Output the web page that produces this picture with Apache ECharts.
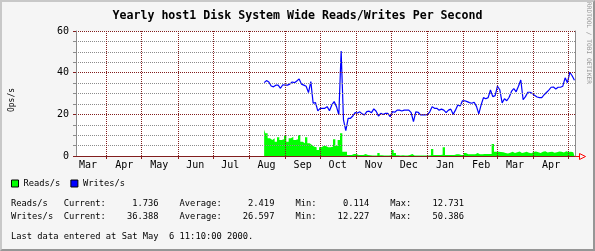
<!DOCTYPE html>
<html><head><meta charset="utf-8">
<script src="https://cdn.jsdelivr.net/npm/echarts@6/dist/echarts.min.js"></script>
<style>
html,body{margin:0;padding:0;background:#f5f5f5;}
#wrap{position:relative;width:595px;height:251px;}
#chart{width:595px;height:251px;}
#frame{position:absolute;left:0;top:0;width:595px;height:251px;box-sizing:border-box;border-style:solid;border-width:2px;border-color:#c8c8c8 #969696 #969696 #c8c8c8;pointer-events:none;}
</style></head><body>
<div id="wrap"><div id="chart"></div><div id="frame"></div></div>
<script>
const chartTitle = 'Yearly host1 Disk System Wide Reads/Writes Per Second';
const yAxisTitle = 'Ops/s';
const seriesNames = ['Reads/s', 'Writes/s'];
const watermark = 'RRDTOOL / TOBI OETIKER';
const lastUpdate = 'Last data entered at Sat May  6 11:10:00 2000.';

// x range (UTC)
const rangeStart = '1999-03-05T17:00:00Z';
const rangeEnd = '2000-05-06T11:10:00Z';
// month grid lines (month starts) and month labels (centred mid-month)
const monthLines = ['1999-04-01','1999-05-01','1999-06-01','1999-07-01','1999-08-01','1999-09-01','1999-10-01','1999-11-01','1999-12-01','2000-01-01','2000-02-01','2000-03-01','2000-04-01','2000-05-01'];
const monthLabelDates = ['1999-03-16','1999-04-16','1999-05-16','1999-06-16','1999-07-16','1999-08-16','1999-09-16','1999-10-16','1999-11-16','1999-12-16','2000-01-16','2000-02-16','2000-03-16','2000-04-16'];
const monthLabels = ['Mar','Apr','May','Jun','Jul','Aug','Sep','Oct','Nov','Dec','Jan','Feb','Mar','Apr'];

// y axis
const yMin = 0, yMax = 60, yStep = 20;

// samples: one every 2 days starting 1999-08-14
const sampleStart = '1999-08-14T00:00:00Z';
const sampleStepDays = 2;
const readsValues = [12.7,10.9,8.5,7.7,8.5,6.9,9,7.7,8,9.6,6.9,8.5,9.3,7.7,8,10.1,6.9,6.1,9,6.1,
 5.3,4.5,4.2,2.9,4.2,4.8,4.8,4.2,4.2,4.5,8,4.8,7.7,10.9,2.1,2.1,0.5,0.5,1,1,
 0.5,0.5,0.5,1,0.5,0.4,0.3,0.3,0.3,1.5,0.4,0.3,0.3,0.3,0.4,2.9,1.5,0.4,0.3,0.4,
 0.3,0.3,0.5,1,0.3,0.3,0.3,0.2,0.3,0.3,0.3,0.4,3.4,0.5,0.5,0.5,0.6,4.2,0.5,0.5,
 0.5,0.5,0.8,0.8,0.5,0.5,1.5,0.8,0.8,0.8,0.8,1.5,0.8,0.8,1,1,1,1,5.8,2.1,
 2.1,1.9,1.8,1.5,1.2,1.6,2.0,1.4,1.8,2.2,1.5,1.7,2.0,1.6,1.3,1.9,2.2,1.8,1.5,2.0,
 2.3,1.7,1.9,2.1,1.6,1.8,2.2,2.0,1.7,2.3,1.9,2.1,1.8,1.736];
const writesValues = [35.2,36.2,35.5,33.6,33.2,34,34,32.5,34.2,34,34,34.5,35.5,35.2,36,37,34.5,34,33.5,30.4,
 35.7,25.4,25.6,21.7,22.9,22.9,22.9,23.7,21.7,24.5,26.1,23.7,19.7,50.386,17.3,12.227,18.1,18.1,19.2,20.8,
 20.6,21.2,20.2,19.7,21.3,21.5,20.8,22.6,21.5,19.2,20.5,19.9,20.5,20.5,18.9,21.3,21,22,22,21.6,
 22,22,22,20.8,16.5,21.2,21,19.7,19.7,19.7,19.9,21.2,23.7,22.9,22.9,22,22.5,22,20.8,22,
 22.5,20,22,24.5,24,26.5,26.5,26.1,25.6,25.3,25.8,23.8,20.2,24.5,28,27.5,28,31.7,28.5,29,
 33.5,31.8,25.5,27.5,26.5,28.2,31,32.4,30.8,33.5,36.5,27,28.5,30.6,30.6,30,29,28.3,28,28,
 29.4,30.5,31.6,33,33.1,32.2,33,33,33.5,37.5,35.2,40.2,38.5,36.388];

// summary table
const statLabels = ['Current:', 'Average:', 'Min:', 'Max:'];
const readsStats = [1.736, 2.419, 0.114, 12.731];
const writesStats = [36.388, 26.597, 12.227, 50.386];

const colors = { reads: '#00ff00', writes: '#0000ff', mgrid: '#821e1e', grid: '#8c8c8c', axis: '#8c8c8c', arrow: '#ff0000' };
const MONO = '"DejaVu Sans Mono", "Liberation Mono", monospace';

const t = s => Date.parse(s.length === 10 ? s + 'T00:00:00Z' : s);
const DAY = 86400000;
const s0 = t(sampleStart);
const readsData = readsValues.map((v, i) => [s0 + i * sampleStepDays * DAY, v]);
const writesData = writesValues.map((v, i) => [s0 + i * sampleStepDays * DAY, v]);
const lineTimes = monthLines.map(t);
const labelTimes = monthLabelDates.map(t);

function statRow(name, vals) {
  let s = name.padEnd(10);
  statLabels.forEach((l, i) => { s += (i ? '    ' : '') + l + vals[i].toFixed(3).padStart(10); });
  return s;
}

const chart = echarts.init(document.getElementById('chart'), null, { renderer: 'canvas' });
chart.setOption({
  animation: false,
  backgroundColor: '#f5f5f5',
  grid: { left: 76, right: 20, top: 31, bottom: 95, show: true, backgroundColor: '#ffffff', borderWidth: 0, containLabel: false },
  legend: {
    left: 11, top: 179, padding: 0, itemWidth: 7, itemHeight: 7, itemGap: 10, icon: 'rect',
    itemStyle: { borderColor: '#000', borderWidth: 1 },
    textStyle: { fontFamily: MONO, fontSize: 8.75, color: '#000' },
    data: seriesNames
  },
  xAxis: {
    type: 'value', min: t(rangeStart), max: t(rangeEnd), z: 3,
    axisLine: { show: true, onZero: false, lineStyle: { color: colors.mgrid, width: 1 } },
    axisTick: { show: true, length: 3, customValues: lineTimes, lineStyle: { color: colors.mgrid } },
    axisLabel: {
      customValues: labelTimes, margin: 4, fontFamily: MONO, fontSize: 10, color: '#000',
      formatter: v => { let b = 0; labelTimes.forEach((x, i) => { if (Math.abs(x - v) < Math.abs(labelTimes[b] - v)) b = i; }); return monthLabels[b]; }
    },
    splitLine: { show: true, lineStyle: { color: colors.mgrid, type: 'dotted', width: 1 } }
  },
  yAxis: [{
    type: 'value', min: yMin, max: yMax, interval: yStep, z: 3,
    axisLine: { show: true, lineStyle: { color: colors.axis, width: 1 } },
    axisTick: { show: true, length: 3, lineStyle: { color: colors.mgrid } },
    minorTick: { show: true, splitNumber: 4, length: 3, lineStyle: { color: colors.grid } },
    axisLabel: { margin: 7, fontFamily: MONO, fontSize: 10, color: '#000' },
    splitLine: { show: true, lineStyle: { color: colors.mgrid, type: 'dotted', width: 1 } },
    minorSplitLine: { show: true, lineStyle: { color: colors.grid, type: 'dotted', width: 1 } }
  }, {
    type: 'value', min: yMin, max: yMax, position: 'right', z: 3,
    axisLine: { show: true, lineStyle: { color: colors.axis, width: 1 } },
    axisTick: { show: false }, axisLabel: { show: false }, splitLine: { show: false }
  }],
  series: [{
    name: seriesNames[0], type: 'line', data: readsData, step: 'middle', symbol: 'none', z: 2,
    color: colors.reads, itemStyle: { color: colors.reads },
    lineStyle: { width: 0, color: colors.reads }, areaStyle: { color: colors.reads, opacity: 1 }
  }, {
    name: seriesNames[1], type: 'line', data: writesData, symbol: 'none', z: 2,
    color: colors.writes, itemStyle: { color: colors.writes },
    lineStyle: { width: 1.2, color: colors.writes }
  }],
  graphic: [
    { type: 'text', x: 297.5, y: 15.5, style: { text: chartTitle, font: 'bold 11.6px ' + MONO, fill: '#000', align: 'center', verticalAlign: 'middle' } },
    { type: 'text', x: 12, y: 100, rotation: Math.PI / 2, style: { text: yAxisTitle, font: '8px ' + MONO, fill: '#000', align: 'center', verticalAlign: 'middle' } },
    { type: 'text', x: 589, y: 43, rotation: -Math.PI / 2, style: { text: watermark, font: '6.2px ' + MONO, fill: '#999999', align: 'center', verticalAlign: 'middle' } },
    { type: 'text', x: 11, y: 204, style: { text: statRow(seriesNames[0], readsStats), font: '8.75px ' + MONO, fill: '#000', align: 'left', verticalAlign: 'middle' } },
    { type: 'text', x: 11, y: 217, style: { text: statRow(seriesNames[1], writesStats), font: '8.75px ' + MONO, fill: '#000', align: 'left', verticalAlign: 'middle' } },
    { type: 'text', x: 11, y: 237, style: { text: lastUpdate, font: '8.75px ' + MONO, fill: '#000', align: 'left', verticalAlign: 'middle' } },
    { type: 'polyline', shape: { points: [[575, 156.5], [579, 156.5]] }, style: { stroke: colors.arrow, lineWidth: 1 } },
    { type: 'polygon', shape: { points: [[579.5, 153.5], [585.5, 156.5], [579.5, 159.5]] }, style: { stroke: colors.arrow, fill: null, lineWidth: 1 } }
  ]
});
</script>
</body></html>
